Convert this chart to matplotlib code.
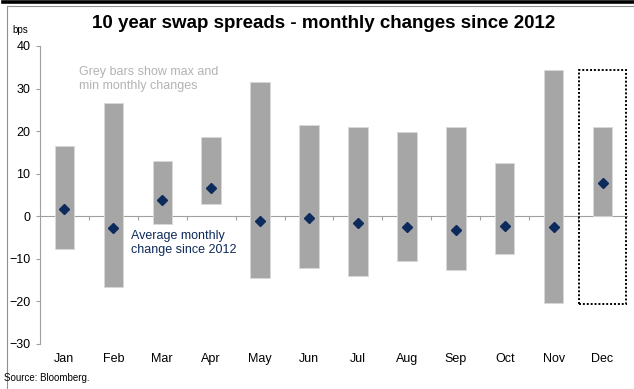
import matplotlib
matplotlib.use("Agg")
import matplotlib.pyplot as plt
from matplotlib.patches import Rectangle
from matplotlib.lines import Line2D

plt.rcParams["font.family"] = ["Liberation Sans", "DejaVu Sans"]

months = ["Jan", "Feb", "Mar", "Apr", "May", "Jun",
          "Jul", "Aug", "Sep", "Oct", "Nov", "Dec"]
max_change = [16.4, 26.5, 13.0, 18.7, 31.6, 21.4, 21.0, 19.8, 21.0, 12.4, 34.3, 21.0]
min_change = [-7.6, -16.6, -1.8, 3.0, -14.6, -12.2, -14.1, -10.6, -12.6, -8.9, -20.4, 0.0]
avg_change = [1.7, -2.7, 3.8, 6.6, -1.1, -0.3, -1.5, -2.6, -3.3, -2.3, -2.5, 7.8]

BAR = "#a6a6a6"
NAVY = "#0c2a5c"
AXIS = "#a0a0a0"

fig = plt.figure(figsize=(6.34, 3.89), dpi=100)
ax = fig.add_axes([40 / 634, 1 - 344 / 389, 587 / 634, 298 / 389])

x = list(range(len(months)))
heights = [hi - lo for hi, lo in zip(max_change, min_change)]
ax.bar(x, heights, bottom=min_change, width=0.4, color=BAR,
       edgecolor="#d9d9d9", linewidth=0.6, zorder=2)
ax.plot(x, avg_change, linestyle="none", marker="D", markersize=5.5,
        color=NAVY, zorder=3)

# dotted box around December
ax.add_patch(Rectangle((10.52, -20.5), 0.96, 54.9, fill=False,
                       edgecolor="black", linestyle=(0, (1, 1)),
                       linewidth=1.4, zorder=4))

ax.set_xlim(-0.5, 11.5)
ax.set_ylim(-30, 40)
ax.set_yticks(range(-30, 41, 10))
ax.tick_params(axis="y", length=3, color=AXIS, labelsize=9, pad=4)

for side in ["top", "right"]:
    ax.spines[side].set_visible(False)
ax.spines["left"].set_color(AXIS)
ax.spines["bottom"].set_position(("data", 0))
ax.spines["bottom"].set_color(AXIS)
ax.spines["bottom"].set_zorder(1)
ax.set_xticks([i + 0.5 for i in range(11)])
ax.set_xticklabels([])
ax.tick_params(axis="x", length=3, color=AXIS)

for i, m in enumerate(months):
    ax.text(i, -0.05, m, transform=ax.get_xaxis_transform(),
            ha="center", va="center", fontsize=9)

ax.text(0.3, 35.3, "Grey bars show max and\nmin monthly changes",
        color="#b3b3b3", fontsize=9, va="top", ha="left", linespacing=1.25)
ax.text(1.37, -3.3, "Average monthly\nchange since 2012",
        color=NAVY, fontsize=9, va="top", ha="left", linespacing=1.15)

fig.text(324 / 634, 1 - 23 / 389, "10 year swap spreads - monthly changes since 2012",
         ha="center", va="center", fontsize=13.5, fontweight="bold")
fig.text(12 / 634, 1 - 30 / 389, "bps", ha="left", va="center", fontsize=7)
fig.text(4 / 634, 1 - 378 / 389, "Source: Bloomberg.", ha="left",
         va="center", fontsize=7)

# frame lines at top and left
fig.add_artist(Line2D([3 / 634, 1], [1 - 1.8 / 389, 1 - 1.8 / 389],
                      color="black", linewidth=2.6))
fig.add_artist(Line2D([6.5 / 634, 1], [1 - 5.5 / 389, 1 - 5.5 / 389],
                      color="#909090", linewidth=0.8))
fig.add_artist(Line2D([6.5 / 634, 6.5 / 634], [0, 1 - 5.5 / 389],
                      color="#909090", linewidth=0.8))

fig.savefig("out.png", dpi=100)
